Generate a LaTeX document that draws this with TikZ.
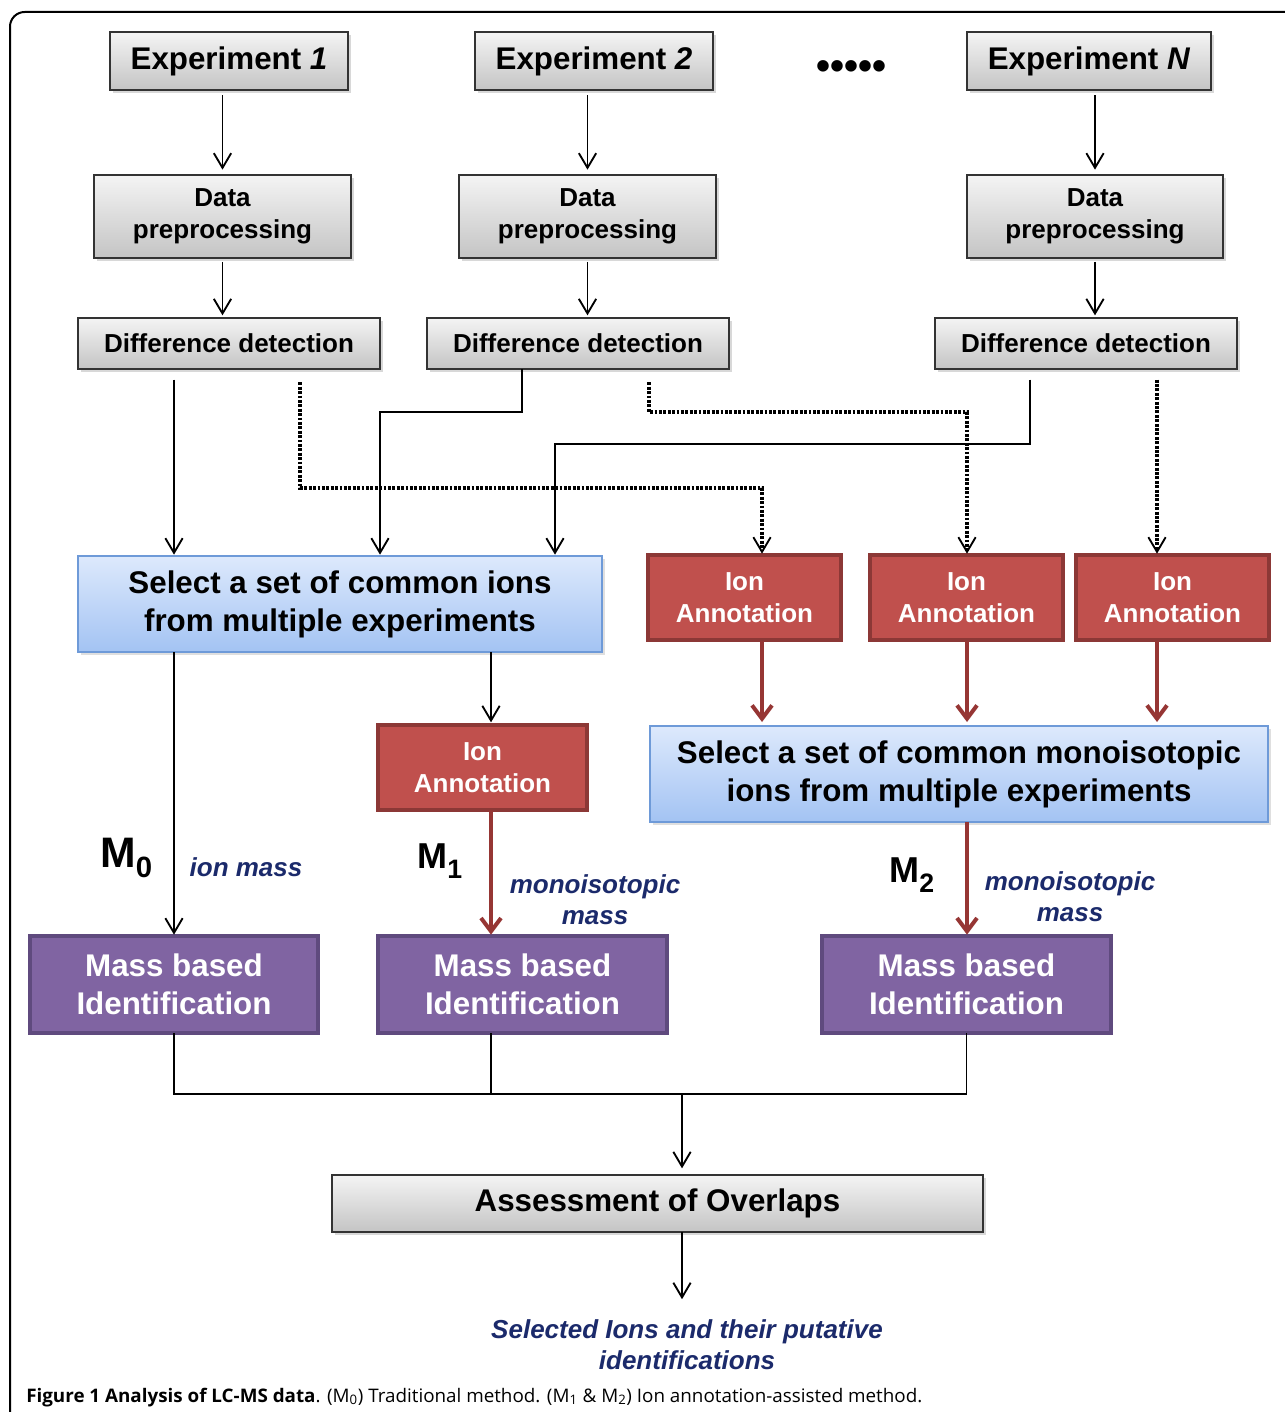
\documentclass[tikz,border=0pt]{standalone}
\usepackage{fontspec}
\setmainfont{Liberation Sans}
\newfontfamily\capfont{Open Sans}
\usetikzlibrary{arrows.meta,shadows,calc}
\definecolor{navy}{HTML}{1B2A6B}
\definecolor{redfill}{HTML}{C0504D}
\definecolor{redline}{HTML}{8C3836}
\definecolor{redarr}{HTML}{963634}
\definecolor{purfill}{HTML}{8064A2}
\definecolor{purline}{HTML}{5F4A7E}
\definecolor{bluetop}{HTML}{DDE9FC}
\definecolor{bluebot}{HTML}{A3C3F3}
\definecolor{blueline}{HTML}{6E9AD8}
\definecolor{graytop}{HTML}{F4F4F4}
\definecolor{graybot}{HTML}{C4C4C4}
\tikzset{
  basebox/.style={inner sep=0pt, outer sep=0pt, align=center, font=\bfseries},
  graybox/.style={basebox, draw=black!80, line width=1.2pt, top color=graytop, bottom color=graybot,
    drop shadow={shadow xshift=2.5pt, shadow yshift=-2.5pt, opacity=0.3}},
  bluebox/.style={basebox, draw=blueline, line width=1.5pt, top color=bluetop, bottom color=bluebot,
    drop shadow={shadow xshift=2pt, shadow yshift=-2pt, opacity=0.25}},
  redbox/.style={basebox, fill=redfill, draw=redline, line width=3pt, text=white},
  purbox/.style={basebox, fill=purfill, draw=purline, line width=3pt, text=white},
  arr/.style={-{Straight Barb[length=11pt,width=13pt,line width=1.4pt]}, line width=1.4pt},
  redarr/.style={draw=redarr, line width=3pt, -{Straight Barb[length=10pt,width=15pt]}},
  dotarr/.style={line width=3pt, dash pattern=on 2.2pt off 1.1pt,
    -{Straight Barb[length=11pt,width=13pt,line width=1.4pt]}},
  bigf/.style={font=\fontsize{23.5}{28.5}\selectfont\bfseries},
  medf/.style={font=\fontsize{19.5}{24}\selectfont\bfseries},
  lbl/.style={text=navy, font=\fontsize{19.5}{23.3}\selectfont\bfseries\itshape, align=center},
  mlbl/.style={anchor=base west, inner sep=0pt, font=\bfseries},
}
\begin{document}
\begin{tikzpicture}[x=0.75pt,y=-0.75pt]
\useasboundingbox (0,0) rectangle (1284,1412);
\fill[white] (0,0) rectangle (1284,1412);
% frame
\draw[line width=1.5pt, rounded corners=11pt] (10,1440) -- (10,12) -- (1320,12);

% top row
\node[graybox, bigf, minimum width=178.5pt, minimum height=43.5pt] (exp1) at (229,61) {Experiment \textit{1}};
\node[graybox, bigf, minimum width=178.5pt, minimum height=43.5pt] (exp2) at (594,61) {Experiment \textit{2}};
\node[graybox, bigf, minimum width=183pt, minimum height=43.5pt] (expN) at (1089,61) {Experiment \textit{N}};
\node[font=\fontsize{30}{30}\selectfont\bfseries] (dots) at (851,70) {•••••};

\node[graybox, medf, minimum width=192.75pt, minimum height=62.25pt] (dp1) at (222.5,216.5) {Data\\preprocessing};
\node[graybox, medf, minimum width=192.75pt, minimum height=62.25pt] (dp2) at (587.5,216.5) {Data\\preprocessing};
\node[graybox, medf, minimum width=192pt, minimum height=62.25pt] (dpN) at (1095,216.5) {Data\\preprocessing};

\node[graybox, medf, minimum width=226.5pt, minimum height=38.25pt] (dd1) at (229,343.5) {Difference detection};
\node[graybox, medf, minimum width=226.5pt, minimum height=38.25pt] (dd2) at (578,343.5) {Difference detection};
\node[graybox, medf, minimum width=226.5pt, minimum height=38.25pt] (ddN) at (1086,343.5) {Difference detection};

\draw[arr, shorten <=4pt, shorten >=4pt] (exp1.south -| dp1.north) -- (dp1.north);
\draw[arr, shorten <=4pt, shorten >=4pt] (exp2.south -| dp2.north) -- (dp2.north);
\draw[arr, shorten <=4pt, shorten >=4pt] (expN.south -| dpN.north) -- (dpN.north);
\draw[arr, shorten <=3pt, shorten >=2pt] (dp1.south) -- (dp1.south |- dd1.north);
\draw[arr, shorten <=3pt, shorten >=2pt] (dp2.south) -- (dp2.south |- dd2.north);
\draw[arr, shorten <=3pt, shorten >=2pt] (dpN.south) -- (dpN.south |- ddN.north);

% middle row
\node[bluebox, bigf, minimum width=393pt, minimum height=72pt] (sel1) at (340,604) {Select a set of common ions\\from multiple experiments};
\node[redbox, medf, minimum width=144.75pt, minimum height=63.75pt] (ia1) at (744.5,597.5) {Ion\\Annotation};
\node[redbox, medf, minimum width=144.75pt, minimum height=63.75pt] (ia2) at (966.5,597.5) {Ion\\Annotation};
\node[redbox, medf, minimum width=144.75pt, minimum height=63.75pt] (ia3) at (1172.5,597.5) {Ion\\Annotation};
\node[redbox, medf, minimum width=156.75pt, minimum height=63.75pt] (iac) at (482.5,767.5) {Ion\\Annotation};
\node[bluebox, bigf, minimum width=463.5pt, minimum height=72pt] (sel2) at (959,774) {Select a set of common monoisotopic\\ions from multiple experiments};

% helper coordinates
\coordinate (x174) at (174,0);
\coordinate (x491) at (491,0);
\coordinate (x762) at (762,0);
\coordinate (x967) at (967,0);
\coordinate (x1157) at (1157,0);
\coordinate (c1a) at (300,488);
\coordinate (c1b) at (762,488);
\coordinate (c2a) at (522,412);
\coordinate (c2b) at (380,412);
\coordinate (c3a) at (649,412);
\coordinate (c3b) at (967,412);
\coordinate (c4a) at (1030,444);
\coordinate (c4b) at (555,444);

% connectors from difference detection
\draw[arr, shorten <=8pt, shorten >=1pt] (dd1.south -| x174) -- (sel1.north -| x174);
\draw[dotarr, shorten <=10pt, shorten >=1pt] (dd1.south -| c1a) -- (c1a) -- (c1b) -- (ia1.north -| c1b);
\draw[arr, shorten >=1pt] (dd2.south -| c2a) -- (c2a) -- (c2b) -- (sel1.north -| c2b);
\draw[dotarr, shorten <=10pt, shorten >=1pt] (dd2.south -| c3a) -- (c3a) -- (c3b) -- (ia2.north -| c3b);
\draw[arr, shorten <=8pt, shorten >=1pt] (ddN.south -| c4a) -- (c4a) -- (c4b) -- (sel1.north -| c4b);
\draw[dotarr, shorten <=8pt, shorten >=1pt] (ddN.south -| x1157) -- (ia3.north -| x1157);

% red arrows to sel2
\draw[redarr, shorten <=1pt, shorten >=3pt] (ia1.south -| x762) -- (sel2.north -| x762);
\draw[redarr, shorten <=1pt, shorten >=3pt] (ia2.south -| x967) -- (sel2.north -| x967);
\draw[redarr, shorten <=1pt, shorten >=3pt] (ia3.south -| x1157) -- (sel2.north -| x1157);

\draw[arr, shorten >=2pt] (sel1.south -| x491) -- (iac.north -| x491);

% bottom row
\node[purbox, bigf, minimum width=216pt, minimum height=72.75pt] (mb1) at (174,984.5) {Mass based\\Identification};
\node[purbox, bigf, minimum width=216.75pt, minimum height=72.75pt] (mb2) at (522.5,984.5) {Mass based\\Identification};
\node[purbox, bigf, minimum width=216.75pt, minimum height=72.75pt] (mb3) at (966.5,984.5) {Mass based\\Identification};

\draw[arr, shorten >=1pt] (sel1.south -| x174) -- (mb1.north -| x174);
\draw[redarr, shorten >=1pt] (iac.south -| x491) -- (mb2.north -| x491);
\draw[redarr, shorten >=1pt] (sel2.south -| x967) -- (mb3.north -| x967);

% labels
\node[mlbl, font=\fontsize{32}{32}\selectfont\bfseries] (m0) at (100,867) {M\raisebox{-8pt}{\fontsize{22}{22}\selectfont 0}};
\node[mlbl, font=\fontsize{27}{27}\selectfont\bfseries] (m1) at (417,868) {M\raisebox{-7.5pt}{\fontsize{20}{20}\selectfont 1}};
\node[mlbl, font=\fontsize{27}{27}\selectfont\bfseries] (m2) at (889,882) {M\raisebox{-7.5pt}{\fontsize{20}{20}\selectfont 2}};
\node[lbl] (l0) at (246,867) {ion mass};
\node[lbl] (l1) at (595,900) {monoisotopic\\mass};
\node[lbl] (l2) at (1070,897) {monoisotopic\\mass};

% assessment
\coordinate (jn) at (682,1094);
\node[graybox, bigf, minimum width=488.25pt, minimum height=42.75pt] (ass) at (657.5,1203.5) {Assessment of Overlaps};
\draw[line width=1.4pt] (mb1.south) -- (mb1.south |- jn) -- (mb3.south |- jn) -- (mb3.south);
\draw[line width=1.4pt] (mb2.south -| x491) -- (x491 |- jn);
\draw[arr, shorten >=5pt] (jn) -- (ass.north -| jn);

\node[lbl] (res) at (687,1345) {Selected Ions and their putative\\identifications};
\draw[arr, shorten >=12pt] (ass.south -| jn) -- (res.north -| jn);

% caption
\node[anchor=base west, inner sep=0pt] (cap) at (26,1402) {\resizebox{672pt}{\height}{\capfont\fontsize{14}{16}\selectfont\textbf{Figure 1 Analysis of LC-MS data}. (M\textsubscript{0}) Traditional method. (M\textsubscript{1} \& M\textsubscript{2}) Ion annotation-assisted method.}};
\end{tikzpicture}
\end{document}
